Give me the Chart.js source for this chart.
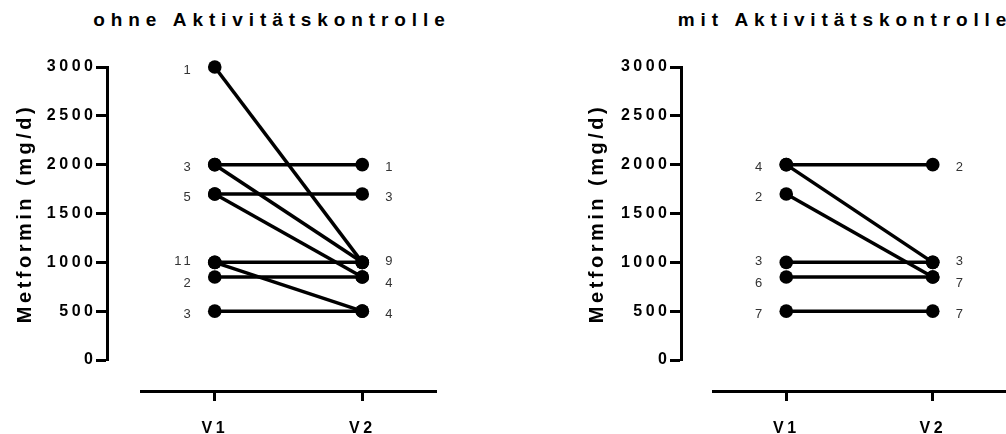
<!DOCTYPE html>
<html>
<head>
<meta charset="utf-8">
<title>Metformin V1 / V2</title>
<script src="https://cdn.jsdelivr.net/npm/chart.js@4.4.1/dist/chart.umd.min.js"></script>
<style>
  body { margin: 0; width: 1006px; height: 434px; overflow: hidden; background: #fff; position: relative;
         font-family: "Liberation Sans", Arial, sans-serif; }
  .panel { position: absolute; top: 0; width: 503px; height: 434px; }
  .title { position: absolute; top: 9px; line-height: 22px; font-weight: bold; font-size: 19px;
           letter-spacing: 5.9px; white-space: nowrap; color: #000; transform: translateX(-50%); }
</style>
</head>
<body>
<div class="title" style="left:272px">ohne Aktivitätskontrolle</div>
<div class="title" style="left:845px">mit Aktivitätskontrolle</div>
<div class="panel" style="left:0"><canvas id="chart-ohne"></canvas></div>
<div class="panel" style="left:503px"><canvas id="chart-mit"></canvas></div>

<script>
'use strict';

// ********** Data **********

let visits = ['V1', 'V2'];
let yTicks = [0, 500, 1000, 1500, 2000, 2500, 3000];

// ohne Aktivitätskontrolle: one line per V1 -> V2 pair
let ohneV1 = [3000, 2000, 2000, 1700, 1700, 1000, 1000, 850, 500];
let ohneV2 = [1000, 2000, 1000, 1700, 850, 1000, 500, 850, 500];
// patient counts written next to the dots
let ohneV1Doses = [3000, 2000, 1700, 1000, 850, 500];
let ohneV1Counts = [1, 3, 5, 11, 2, 3];
let ohneV2Doses = [2000, 1700, 1000, 850, 500];
let ohneV2Counts = [1, 3, 9, 4, 4];

// mit Aktivitätskontrolle
let mitV1 = [2000, 2000, 1700, 1000, 850, 500];
let mitV2 = [2000, 1000, 850, 1000, 850, 500];
let mitV1Doses = [2000, 1700, 1000, 850, 500];
let mitV1Counts = [4, 2, 3, 6, 7];
let mitV2Doses = [2000, 1000, 850, 500];
let mitV2Counts = [2, 3, 7, 7];

// ********** Plugins **********

let fontFamily = '"Liberation Sans", Arial, sans-serif';

let spacingPlugin = {
  id: 'spacing',
  beforeLayout(chart) { chart.ctx.letterSpacing = '3.5px'; },
  beforeDraw(chart) { chart.ctx.letterSpacing = '3.5px'; }
};

// spread labels of dots that sit too close together
function labelYs(yScale, doses) {
  let out = doses.map(d => yScale.getPixelForValue(d) + 3);
  for (let i = 1; i < out.length; i++) {
    if (out[i] - out[i - 1] < 20) {
      let mid = (out[i] + out[i - 1]) / 2;
      out[i - 1] = mid - 11;
      out[i] = mid + 11;
    }
  }
  return out;
}

let countPlugin = {
  id: 'counts',
  afterDatasetsDraw(chart, args, opts) {
    let ctx = chart.ctx;
    let xs = chart.scales.x;
    let ys = chart.scales.y;
    ctx.save();
    ctx.letterSpacing = '3px';
    ctx.font = '13px ' + fontFamily;
    ctx.fillStyle = '#333';
    ctx.textBaseline = 'middle';

    ctx.textAlign = 'right';
    let leftX = xs.getPixelForValue(0) - 21;
    labelYs(ys, opts.v1Doses).forEach((y, i) => ctx.fillText(String(opts.v1Counts[i]), leftX, y));

    ctx.textAlign = 'left';
    let rightX = xs.getPixelForValue(1) + 23;
    labelYs(ys, opts.v2Doses).forEach((y, i) => ctx.fillText(String(opts.v2Counts[i]), rightX, y));
    ctx.restore();
  }
};

// ********** Charts **********

function makeChart(canvasId, v1, v2, counts, pad, yAxisAt, yLabelsAt) {
  let datasets = [];
  for (let i = 0; i < v1.length; i++) {
    datasets.push({
      data: [v1[i], v2[i]],
      borderColor: '#000',
      borderWidth: 3.5,
      pointRadius: 6.8,
      pointBackgroundColor: '#000',
      pointBorderColor: '#000',
      pointBorderWidth: 0,
      clip: false
    });
  }

  return new Chart(document.getElementById(canvasId), {
    type: 'line',
    data: { labels: visits, datasets: datasets },
    options: {
      responsive: true,
      maintainAspectRatio: false,
      animation: false,
      layout: { autoPadding: false, padding: pad },
      plugins: {
        legend: { display: false },
        tooltip: { enabled: false },
        counts: counts
      },
      scales: {
        x: {
          type: 'category',
          offset: true,
          position: { y: -327 },
          grid: { drawOnChartArea: false, offset: false, tickLength: 8, tickWidth: 3, tickColor: '#000' },
          border: { width: 3, color: '#000' },
          ticks: { color: '#000', padding: 19, maxRotation: 0, font: { family: fontFamily, size: 16, weight: 'bold' } }
        },
        // axis line and tick marks
        y: {
          min: 0,
          max: 3000,
          position: { x: yAxisAt },
          afterBuildTicks: axis => { axis.ticks = yTicks.map(v => ({ value: v })); },
          grid: { drawOnChartArea: false, tickLength: 10, tickWidth: 3, tickColor: '#000' },
          border: { width: 3, color: '#000' },
          ticks: { display: false }
        },
        // tick labels
        yLab: {
          axis: 'y',
          min: 0,
          max: 3000,
          position: { x: yLabelsAt },
          afterBuildTicks: axis => { axis.ticks = yTicks.map(v => ({ value: v })); },
          grid: { display: false, drawTicks: false },
          border: { display: false },
          ticks: { color: '#000', padding: 0, callback: v => String(v), font: { family: fontFamily, size: 16, weight: 'bold' } }
        },
        // axis title
        yTitle: {
          axis: 'y',
          position: 'left',
          min: 0,
          max: 3000,
          grid: { display: false, drawTicks: false },
          border: { display: false },
          ticks: { display: false },
          title: {
            display: true,
            text: 'Metformin (mg/d)',
            color: '#000',
            padding: { top: 4, bottom: 104 },
            font: { family: fontFamily, size: 20, weight: 'bold' }
          }
        }
      }
    },
    plugins: [spacingPlugin, countPlugin]
  });
}

makeChart('chart-ohne', ohneV1, ohneV2,
  { v1Doses: ohneV1Doses, v1Counts: ohneV1Counts, v2Doses: ohneV2Doses, v2Counts: ohneV2Counts },
  { left: 9, right: 67, top: 67, bottom: 74 }, -0.724, -0.802);

makeChart('chart-mit', mitV1, mitV2,
  { v1Doses: mitV1Doses, v1Counts: mitV1Counts, v2Doses: mitV2Doses, v2Counts: mitV2Counts },
  { left: 78, right: 0, top: 67, bottom: 74 }, -0.712, -0.79);
</script>
</body>
</html>
